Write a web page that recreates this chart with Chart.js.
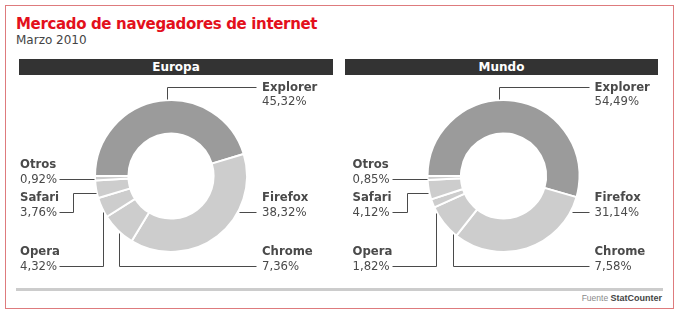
<!DOCTYPE html>
<html>
<head>
<meta charset="utf-8">
<script src="https://cdn.jsdelivr.net/npm/chart.js@4"></script>
<style>
    body { margin: 0; width: 680px; height: 314px; background: #ffffff; position: relative; overflow: hidden; }
    .frame { position: absolute; left: 5px; top: 5px; width: 667px; height: 302px; border: 1px solid #de7b7d; }
    .title { position: absolute; left: 16px; top: 17px; font: bold 15px/15px "DejaVu Sans"; letter-spacing: -0.35px; color: #e3101c; white-space: nowrap; }
    .subtitle { position: absolute; left: 16px; top: 34px; font: 12px/12px "DejaVu Sans"; color: #444444; }
    .panel_bar { position: absolute; top: 59px; height: 16px; background: #333333; color: #ffffff; font: bold 12px/16px "DejaVu Sans"; text-align: center; }
    canvas { position: absolute; top: 70px; }
    .rule { position: absolute; left: 16px; top: 288px; width: 647px; height: 3px; background: #cccccc; }
    .source { position: absolute; right: 18px; top: 294px; font: 8.5px/9px "Liberation Sans"; color: #8a8a8a; }
    .source b { color: #444444; font-size: 9px; }
</style>
</head>
<body>
<div class="frame"></div>
<div class="title">Mercado de navegadores de internet</div>
<div class="subtitle">Marzo 2010</div>
<div class="panel_bar" style="left:19px;width:314px;" id="bar_0"></div>
<div class="panel_bar" style="left:345px;width:313px;" id="bar_1"></div>
<canvas id="chart_europa" width="340" height="215" style="left:0px;"></canvas>
<canvas id="chart_mundo" width="340" height="215" style="left:340px;"></canvas>
<div class="rule"></div>
<div class="source">Fuente <b>StatCounter</b></div>
<script>
"use strict";
// Data
const panel_titles = ["Europa", "Mundo"];
const categories = ["Explorer", "Firefox", "Chrome", "Opera", "Safari", "Otros"];
const europa_values = [45.32, 38.32, 7.36, 4.32, 3.76, 0.92];
const mundo_values = [54.49, 31.14, 7.58, 1.82, 4.12, 0.85];

const slice_colors = ["#9b9b9b", "#cdcdcd", "#cdcdcd", "#cdcdcd", "#cdcdcd", "#cdcdcd"];
const text_color = "#4a4a4a";

document.getElementById("bar_0").textContent = panel_titles[0];
document.getElementById("bar_1").textContent = panel_titles[1];

function formatPercent(value) {
    return value.toFixed(2).replace(".", ",") + "%";
}

// Label + leader line placement, relative to the doughnut centre
function labelLayout(explorer_x, chrome_x, opera_x, safari_elbow) {
    return [
        { side: "right", line2: -75, vert: explorer_x, to: -89 },
        { side: "right", line2: 35.5, horiz: 35.5 },
        { side: "right", line2: 89.5, vert: chrome_x, to: 89.5 },
        { side: "left", line2: 89.5, vert: opera_x, to: 89.5 },
        { side: "left", line2: 35.5, horiz: 17, elbow: safari_elbow },
        { side: "left", line2: 2.5, horiz: 2.5 },
    ];
}

const leader_plugin = {
    id: "leaders",
    afterDatasetsDraw(chart, args, options) {
        const ctx = chart.ctx;
        const meta = chart.getDatasetMeta(0);
        const values = chart.data.datasets[0].data;
        const cx = meta.data[0].x;
        const cy = meta.data[0].y;
        const r = meta.data[0].outerRadius + 1;
        ctx.save();
        ctx.strokeStyle = text_color;
        ctx.lineWidth = 1;
        ctx.fillStyle = text_color;
        ctx.textBaseline = "alphabetic";
        ctx.textAlign = "left";
        options.layout.forEach(function (one_label, i) {
            const text_x = one_label.side === "right" ? cx + 91 : cx - 151;
            const value_text = formatPercent(values[i]);
            ctx.font = "bold 11.7px 'DejaVu Sans'";
            ctx.fillText(chart.data.labels[i], text_x, cy + one_label.line2 - 14.5 + 4.2);
            ctx.font = "11.7px 'DejaVu Sans'";
            ctx.fillText(value_text, text_x, cy + one_label.line2 + 4.2);
            const end_x = one_label.side === "right" ? text_x - 6 : text_x + ctx.measureText(value_text).width + 2;
            const points = [];
            if (one_label.vert !== undefined) {
                const dx = one_label.vert;
                const dy = Math.sqrt(r * r - dx * dx) * (one_label.to < 0 ? -1 : 1);
                points.push([cx + dx, cy + dy], [cx + dx, cy + one_label.to], [end_x, cy + one_label.to]);
            } else {
                const dy = one_label.horiz;
                const dx = Math.sqrt(r * r - dy * dy) * (one_label.side === "right" ? 1 : -1);
                points.push([cx + dx, cy + dy]);
                if (one_label.elbow !== undefined) {
                    points.push([cx + one_label.elbow, cy + dy], [cx + one_label.elbow, cy + one_label.line2]);
                }
                points.push([end_x, cy + one_label.line2]);
            }
            ctx.beginPath();
            points.forEach(function (p, k) {
                const px = Math.round(p[0]) + 0.5;
                const py = Math.round(p[1]) + 0.5;
                if (k === 0) ctx.moveTo(px, py); else ctx.lineTo(px, py);
            });
            ctx.stroke();
        });
        ctx.restore();
    }
};

function makeDoughnut(canvas_id, values, padding, layout) {
    return new Chart(document.getElementById(canvas_id), {
        type: "doughnut",
        data: {
            labels: categories,
            datasets: [{
                data: values,
                backgroundColor: slice_colors,
                borderColor: "#ffffff",
                borderWidth: 2,
                hoverOffset: 0,
            }]
        },
        options: {
            responsive: false,
            animation: false,
            events: [],
            rotation: 270,
            radius: 76,
            cutout: "56%",
            layout: { padding: padding },
            plugins: {
                legend: { display: false },
                tooltip: { enabled: false },
                leaders: { layout: layout },
            }
        },
        plugins: [leader_plugin],
    });
}

makeDoughnut("chart_europa", europa_values, { left: 20, right: 18, top: 10, bottom: 13 }, labelLayout(-4, -52, -68, -98));
makeDoughnut("chart_mundo", mundo_values, { left: 10, right: 23, top: 10, bottom: 13 }, labelLayout(-4.5, -50.5, -67.5, -96.5));
</script>
</body>
</html>
